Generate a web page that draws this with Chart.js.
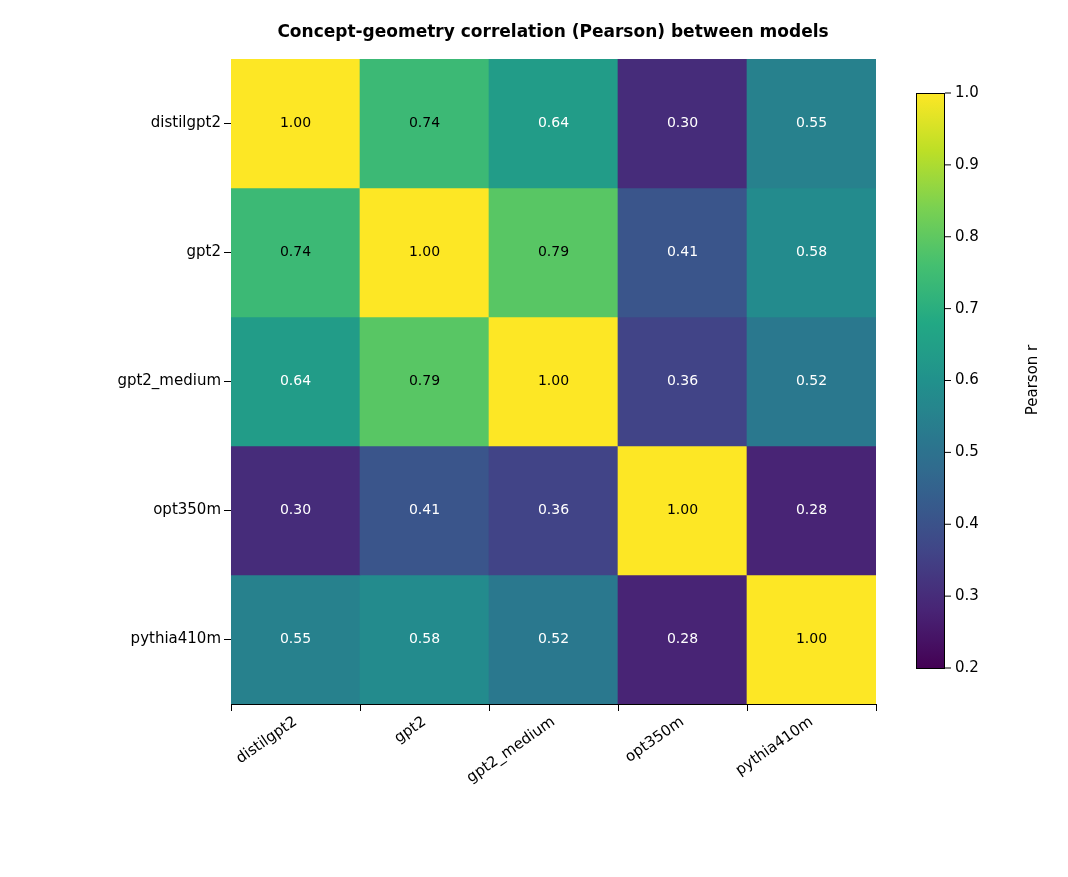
<!DOCTYPE html>
<html><head><meta charset="utf-8">
<script src="https://cdn.jsdelivr.net/npm/chart.js@4"></script>
<style>body{margin:0;background:#fff}</style></head>
<body><canvas id="c" width="1068" height="877"></canvas>
<script>
const models = ['distilgpt2','gpt2','gpt2_medium','opt350m','pythia410m'];
const row0 = [1.00,0.74,0.64,0.30,0.55];
const row1 = [0.74,1.00,0.79,0.41,0.58];
const row2 = [0.64,0.79,1.00,0.36,0.52];
const row3 = [0.30,0.41,0.36,1.00,0.28];
const row4 = [0.55,0.58,0.52,0.28,1.00];
const rows = [row0,row1,row2,row3,row4];
const cbTicks = [0.2,0.3,0.4,0.5,0.6,0.7,0.8,0.9,1.0];
const vmin = 0.2, vmax = 1.0;
const vir = [[68,1,84],[72,36,117],[65,68,135],[53,95,141],[42,120,142],[33,145,140],[34,168,132],[68,191,112],[122,209,81],[189,223,38],[253,231,37]];
function viridis(t){t=Math.max(0,Math.min(1,t));const p=t*(vir.length-1),i=Math.min(Math.floor(p),vir.length-2),f=p-i;
 const c=vir[i].map((v,k)=>Math.round(v+(vir[i+1][k]-v)*f));return `rgb(${c[0]},${c[1]},${c[2]})`;}
const norm=v=>(v-vmin)/(vmax-vmin);
const font='"DejaVu Sans", sans-serif';
const datasets = rows.map((r,ri)=>({data:r.map(()=>[ri-0.5,ri+0.5]),vals:r,backgroundColor:r.map(v=>viridis(norm(v))),
 borderWidth:0,grouped:false,barPercentage:1,categoryPercentage:1}));
const extra={id:'extra',afterDatasetsDraw(ch){
 const ctx=ch.ctx,x=ch.scales.x,y=ch.scales.y;
 ctx.save();ctx.font='14px '+font;ctx.textAlign='center';ctx.textBaseline='middle';
 rows.forEach((r,ri)=>r.forEach((v,ci)=>{ctx.fillStyle=v>0.7?'#000':'#fff';ctx.fillText(v.toFixed(2),x.getPixelForValue(ci),y.getPixelForValue(ri));}));
 ctx.font='bold 17px '+font;ctx.fillStyle='#000';ctx.fillText('Concept-geometry correlation (Pearson) between models',553,33);
 // colorbar
 const x0=916,x1=945,yt=93,yb=668;
 const g=ctx.createLinearGradient(0,yb,0,yt);for(let i=0;i<=20;i++)g.addColorStop(i/20,viridis(i/20));
 ctx.fillStyle=g;ctx.fillRect(x0,yt,x1-x0,yb-yt);ctx.strokeStyle='#000';ctx.lineWidth=1;ctx.strokeRect(x0+0.5,yt+0.5,x1-x0-1,yb-yt);
 ctx.font='15px '+font;ctx.textAlign='left';ctx.fillStyle='#000';
 cbTicks.forEach(t=>{const py=yb-(t-vmin)/(vmax-vmin)*(yb-yt);ctx.beginPath();ctx.moveTo(x1,py);ctx.lineTo(x1+6,py);ctx.stroke();ctx.fillText(t.toFixed(1),x1+10,py);});
 ctx.translate(1033,380);ctx.rotate(-Math.PI/2);ctx.textAlign='center';ctx.fillText('Pearson r',0,0);
 ctx.restore();}};
new Chart(document.getElementById('c'),{type:'bar',data:{labels:models,datasets},plugins:[extra],
 options:{responsive:false,animation:false,devicePixelRatio:1,layout:{padding:{top:59,right:192,left:0,bottom:0}},
 plugins:{legend:{display:false},tooltip:{enabled:false},title:{display:false}},
 scales:{x:{grid:{drawOnChartArea:false,tickLength:7,color:'#000'},border:{color:'#000'},
   ticks:{color:'#000',font:{size:15,family:font},minRotation:35,maxRotation:35,padding:2},afterFit(s){s.height=173;}},
  y:{type:'linear',min:-0.5,max:4.5,reverse:true,grid:{drawOnChartArea:false,tickLength:7,color:'#000'},border:{color:'#000'},
   afterBuildTicks(s){s.ticks=models.map((m,i)=>({value:i}));},
   ticks:{color:'#000',font:{size:15,family:font},callback:v=>models[v]},afterFit(s){s.width=231;}}}}});
</script></body></html>
